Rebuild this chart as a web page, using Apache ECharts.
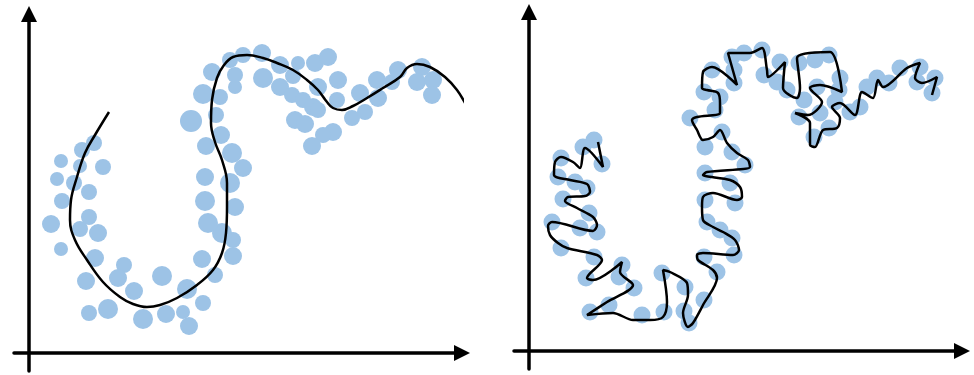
<!DOCTYPE html>
<html>
<head>
<meta charset="utf-8">
<script src="https://cdn.jsdelivr.net/npm/echarts@6/dist/echarts.min.js"></script>
<style>
  html, body { margin: 0; padding: 0; background: #fff; }
  #chart { width: 974px; height: 375px; }
</style>
</head>
<body>
<div id="chart"></div>
<script>
// left panel: points [x, y, diameter], fitted curve [x, y]
var leftPoints = [
  [65,210,16],[53,203,16],[32,192,14],[51,187,14],[74,186,16],[28,174,14],[45,170,16],[60,161,16],
  [33,152,16],[60,136,16],[22,129,18],[51,124,16],[69,120,18],[32,104,14],[66,95,18],[95,88,16],
  [89,75,18],[57,72,18],[105,62,18],[133,77,20],[79,44,20],[60,40,16],[114,34,20],[137,39,18],
  [154,41,14],[160,27,18],[158,64,20],[174,50,16],[186,78,16],[173,94,18],[204,97,18],[204,113,16],
  [193,120,20],[179,130,20],[206,146,18],[176,152,20],[201,170,20],[176,176,18],[214,185,18],[203,200,20],
  [177,207,18],[192,218,18],[162,232,22],[187,238,16],[174,259,20],[191,256,16],[183,281,18],[206,266,14],
  [206,278,16],[201,293,16],[214,298,16],[233,300,18],[234,275,20],[251,288,18],[269,290,14],[251,266,18],
  [264,277,16],[263,258,16],[286,290,18],[299,296,18],[289,266,18],[309,273,18],[274,253,16],[284,246,18],
  [266,233,18],[276,229,18],[289,243,16],[308,253,16],[304,221,18],[294,218,16],[283,207,18],[323,235,16],
  [336,241,16],[331,260,18],[348,273,18],[349,255,18],[363,271,16],[369,283,18],[393,286,18],[388,271,18],
  [404,273,18],[403,258,18]
];
var leftCurve = [
  [80,241],[66,218],[56,200],[48,176],[42,153],[41,133],[46,113],[58,93],[74,71],[91,56],[104,49],
  [118,46],[131,48],[148,55],[168,68],[184,83],[193,100],[197,120],[198,146],[198,170],[193,193],
  [186,211],[182,230],[183,253],[188,275],[195,288],[204,296],[218,298],[234,295],[248,290],[264,283],
  [278,273],[289,263],[298,251],[304,245],[313,243],[324,247],[338,255],[354,265],[371,276],[378,285],
  [388,289],[401,286],[416,276],[428,263],[436,250],[442,238]
];

// right panel
var rightPoints = [
  [65,211],[54,204],[32,193],[73,187],[29,174],[46,169],[58,163],[34,152],[60,138],[23,129],[51,123],
  [68,119],[32,103],[65,94],[93,86],[57,73],[90,74],[105,63],[80,46],[61,39],[113,36],[135,39],
  [133,78],[156,64],[160,28],[155,40],[175,51],[188,79],[175,94],[205,96],[203,113],[191,121],[178,129],
  [206,148],[176,151],[201,168],[176,178],[216,186],[203,199],[176,204],[193,219],[161,233],[186,241],
  [175,259],[191,254],[205,268],[183,281],[205,281],[203,294],[215,298],[233,301],[235,276],[248,269],
  [251,289],[270,288],[258,261],[286,291],[300,296],[311,273],[310,261],[288,264],[275,251],[306,249],
  [270,234],[291,238],[285,214],[300,223],[321,239],[331,244],[338,264],[348,273],[360,268],[371,283],
  [391,284],[406,273],[403,258],[388,269]
];
var rightCurve = [
  [69,209],[74,184],[56,203],[51,183],[44,189],[32,194],[26,189],[25,176],[41,171],[58,167],[61,159],
  [56,155],[39,154],[36,150],[48,143],[64,134],[68,126],[64,120],[23,129],[19,125],[21,116],[29,108],
  [38,103],[68,96],[73,91],[58,73],[64,71],[93,89],[91,79],[104,66],[78,49],[58,36],[84,38],[104,31],
  [121,31],[134,34],[138,49],[134,81],[141,79],[158,68],[159,56],[154,38],[159,24],[164,28],[174,46],
  [188,73],[184,81],[169,91],[168,96],[174,98],[204,96],[210,101],[206,111],[194,119],[184,124],[174,131],
  [173,144],[174,154],[184,158],[208,151],[213,154],[211,164],[201,171],[174,176],[178,179],[221,184],
  [219,191],[208,198],[198,208],[191,221],[184,214],[174,211],[168,221],[163,231],[168,234],[191,238],
  [191,248],[189,258],[178,261],[173,263],[174,279],[183,284],[208,266],[199,298],[221,298],[233,303],
  [238,281],[239,274],[256,289],[254,263],[268,253],[271,263],[268,293],[301,299],[313,259],[291,266],
  [281,263],[293,249],[279,236],[266,238],[281,228],[281,206],[286,204],[294,221],[308,223],[311,233],
  [303,244],[311,248],[326,236],[333,259],[344,253],[349,271],[354,264],[378,283],[391,288],[386,273],
  [393,268],[408,274],[403,256]
];
var rightSize = 17;

var dotColor = '#9dc3e6';

var myChart = echarts.init(document.getElementById('chart'));

function axisX(i) {
  return {
    type: 'value', gridIndex: i, min: -15, max: 433,
    axisLine: { onZero: true, symbol: ['none', 'triangle'], symbolSize: [16, 16],
      lineStyle: { color: '#000', width: 3.5 } },
    axisTick: { show: false }, axisLabel: { show: false }, splitLine: { show: false }
  };
}
function axisY(i) {
  return {
    type: 'value', gridIndex: i, min: -18, max: 339,
    axisLine: { onZero: true, symbol: ['none', 'triangle'], symbolSize: [16, 16],
      lineStyle: { color: '#000', width: 3.5 } },
    axisTick: { show: false }, axisLabel: { show: false }, splitLine: { show: false }
  };
}

var option = {
  animation: false,
  backgroundColor: '#fff',
  grid: [
    { left: 14, right: 512, top: 14, bottom: 4 },
    { left: 514, right: 12, top: 12, bottom: 6 }
  ],
  xAxis: [axisX(0), axisX(1)],
  yAxis: [axisY(0), axisY(1)],
  series: [
    {
      type: 'scatter', xAxisIndex: 0, yAxisIndex: 0,
      data: leftPoints,
      symbolSize: function (d) { return d[2]; },
      itemStyle: { color: dotColor, opacity: 1 },
      z: 1
    },
    {
      type: 'line', xAxisIndex: 0, yAxisIndex: 0,
      data: leftCurve, smooth: 0.4, showSymbol: false, clip: false,
      lineStyle: { color: '#000', width: 2.5 },
      z: 2
    },
    {
      type: 'scatter', xAxisIndex: 1, yAxisIndex: 1,
      data: rightPoints,
      symbolSize: rightSize,
      itemStyle: { color: dotColor, opacity: 1 },
      z: 1
    },
    {
      type: 'line', xAxisIndex: 1, yAxisIndex: 1,
      data: rightCurve, smooth: 0.3, showSymbol: false, clip: false,
      lineStyle: { color: '#000', width: 2.5 },
      z: 2
    }
  ]
};

myChart.setOption(option);
</script>
</body>
</html>
